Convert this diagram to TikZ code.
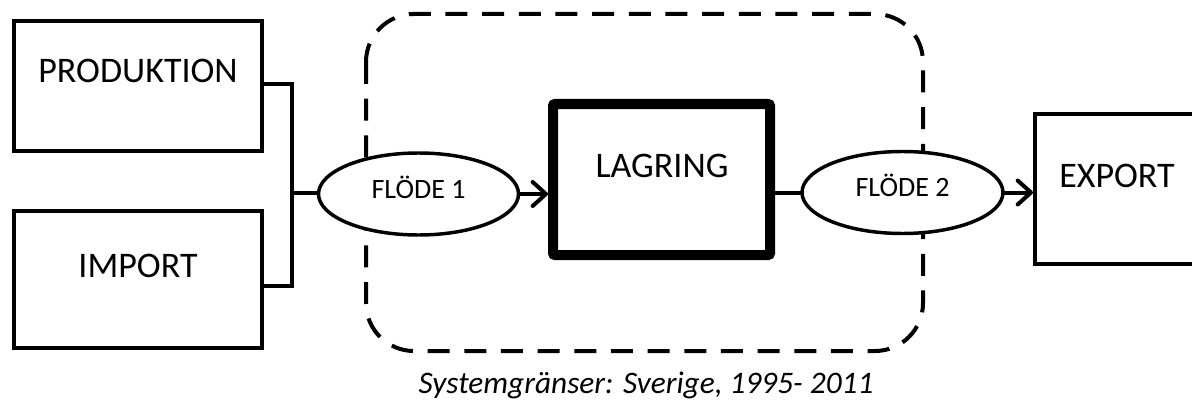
\documentclass[tikz,border=0pt]{standalone}
\usepackage{fontspec}
\setmainfont{Carlito}
\usetikzlibrary{arrows.meta,shapes.geometric}
\newlength{\unitpx}
\setlength{\unitpx}{0.75pt}
\tikzset{
  box/.style={draw, line width=3pt, rectangle, inner sep=0pt, line join=miter},
  bigbox/.style={draw, line width=7.5pt, rectangle, inner sep=0pt, rounded corners=1.5pt},
  flow/.style={draw, fill=white, line width=2.6pt, ellipse, inner sep=0pt,
    font=\fontsize{21}{24}\selectfont, text height=0.644em, text depth=0pt},
  boxtext/.style={anchor=base, inner sep=0pt, font=\fontsize{27}{32}\selectfont},
  conn/.style={line width=3pt, line cap=round, line join=miter},
  tip/.style={-{Straight Barb[length=10pt, width=18pt, line cap=round, line join=round]}},
  sysbound/.style={line width=3pt, dash pattern=on 16.5pt off 11pt, rounded corners=36pt},
  caption/.style={anchor=base, inner sep=0pt, font=\fontsize{23.5}{27}\selectfont\itshape}
}
\begin{document}
\begin{tikzpicture}[x=0.75pt, y=-0.75pt]
  \clip (0,0) rectangle (1192,403);
  \fill[white] (0,0) rectangle (1192,403);

  % system boundary
  \draw[sysbound] (366,14) rectangle (923,351);

  % sources
  \node[box, minimum width=248\unitpx, minimum height=130\unitpx] (prod) at (138,86) {};
  \node[boxtext] (prodlbl) at (138,83) {PRODUKTION};
  \node[box, minimum width=248\unitpx, minimum height=137\unitpx] (imp) at (138,279.5) {};
  \node[boxtext] (implbl) at (138,277) {IMPORT};

  % storage
  \node[bigbox, minimum width=217\unitpx, minimum height=151\unitpx] (lag) at (661.5,179.5) {};
  \node[boxtext] (laglbl) at (662,177) {LAGRING};

  % export
  \node[box, minimum width=195\unitpx, minimum height=150\unitpx] (exp) at (1132.5,189) {};
  \node[boxtext] (explbl) at (1117,187) {EXPORT};

  % flows
  \node[flow, minimum width=200\unitpx, minimum height=82\unitpx] (fl1) at (418.5,194) {FLÖDE 1};
  \node[flow, minimum width=201\unitpx, minimum height=82\unitpx] (fl2) at (902.5,192.5) {FLÖDE 2};

  % connectors
  \coordinate (j) at (292,193);
  \draw[conn] ([yshift=1.5pt]prod.east) -| (j);
  \draw[conn] ([yshift=-4.5pt]imp.east) -| (j);
  \draw[conn] (j) -- (j -| fl1.west);
  \draw[conn, tip] (fl1.east) -- (fl1.east -| lag.west);
  \draw[conn] (lag.east |- fl2.west) -- (fl2.west);
  \draw[conn, tip] (fl2.east) -- (fl2.east -| exp.west);

  % caption
  \node[caption] (cap) at (646,393) {Systemgränser: Sverige, 1995- 2011};
\end{tikzpicture}
\end{document}
